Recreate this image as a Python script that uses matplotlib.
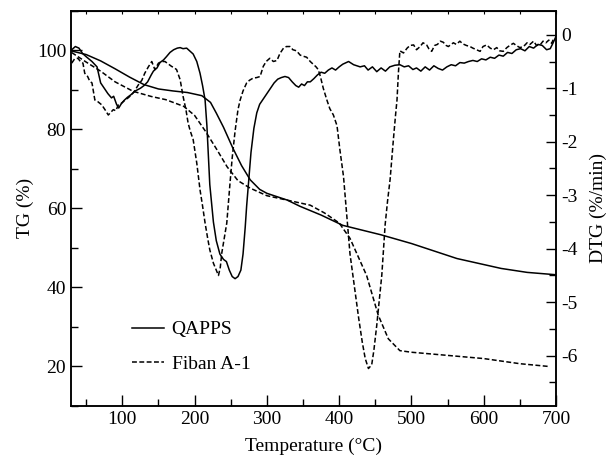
import matplotlib
matplotlib.use("Agg")
import matplotlib.pyplot as plt
from matplotlib.ticker import MultipleLocator

plt.rcParams['font.family'] = ['Liberation Serif', 'DejaVu Serif']
plt.rcParams['axes.unicode_minus'] = False
plt.rcParams['font.size'] = 14

# TG curves (left axis, %)
tg_qapps_x = [30, 50, 70, 90, 110, 130, 150, 170, 190, 210, 222, 230, 240, 253, 265, 277,
              290, 300, 328, 346, 375, 405, 458, 500, 563, 624, 660, 700]
tg_qapps_y = [99.8, 98.9, 97.3, 95.3, 93.2, 91.3, 90.2, 89.7, 89.3, 88.5, 86.8, 84.1, 80.5,
              75.2, 70.8, 67.2, 64.8, 63.8, 62.1, 60.5, 58.3, 55.7, 53.3, 51.1, 47.3, 44.8,
              43.8, 43.2]

tg_fiban_x = [30, 50, 70, 90, 115, 140, 160, 185, 200, 215, 231, 245, 260, 277, 300, 330,
              360, 380, 400, 415, 438, 454, 468, 484, 500, 550, 600, 650, 690]
tg_fiban_y = [99.4, 97.0, 94.7, 92.0, 89.6, 88.3, 87.5, 85.8, 83.5, 79.5, 74.8, 70.5, 67.0,
              65.1, 63.2, 62.0, 60.8, 58.8, 56.3, 52.4, 43.0, 33.0, 27.0, 24.0, 23.6, 22.8,
              22.0, 20.7, 20.0]

# DTG curves (right axis, %/min)
dtg_qapps_x = [30, 35, 40, 45, 50, 58, 65, 70, 75, 80, 85, 88, 92, 95, 99, 103, 107, 112,
               118, 125, 130, 135, 140, 143, 148, 152, 157, 161, 166, 171, 176, 180, 184,
               189, 193, 198, 203, 207.5, 211, 214.5, 217, 221, 226, 230, 235, 240, 244,
               248, 252, 256, 260, 264, 267, 270, 272, 275, 278, 282, 286, 290, 295, 300,
               305, 310, 315, 320, 325, 330, 335, 340, 344, 348, 352, 356, 360, 365, 370,
               375, 380, 385, 390, 395, 400, 405, 413, 420, 429, 435, 440, 446, 452, 458,
               464, 470, 477, 484, 490, 496, 502, 507, 513, 519, 525, 531, 537, 543, 549,
               555, 561, 567, 573, 579, 585, 591, 597, 603, 609, 615, 621, 627, 633, 639,
               645, 651, 657, 663, 669, 675, 681, 687, 692, 696, 700]
dtg_qapps_y = [-0.28, -0.22, -0.25, -0.35, -0.41, -0.5, -0.6, -0.9, -1.0, -1.1, -1.18, -1.15,
               -1.3, -1.37, -1.28, -1.22, -1.17, -1.12, -1.05, -1.0, -0.95, -0.88, -0.75,
               -0.68, -0.62, -0.52, -0.47, -0.41, -0.33, -0.28, -0.25, -0.24, -0.26, -0.25,
               -0.3, -0.36, -0.5, -0.72, -0.95, -1.22, -1.7, -2.8, -3.5, -3.85, -4.1, -4.2,
               -4.24, -4.4, -4.52, -4.56, -4.52, -4.4, -4.1, -3.6, -3.2, -2.7, -2.2, -1.75,
               -1.46, -1.3, -1.2, -1.1, -1.0, -0.9, -0.83, -0.8, -0.78, -0.8, -0.88, -0.95,
               -0.98, -0.92, -0.95, -0.88, -0.88, -0.82, -0.75, -0.7, -0.72, -0.66, -0.62,
               -0.66, -0.6, -0.55, -0.5, -0.56, -0.6, -0.58, -0.66, -0.6, -0.69, -0.62,
               -0.68, -0.6, -0.57, -0.56, -0.6, -0.58, -0.65, -0.62, -0.68, -0.6, -0.66,
               -0.58, -0.63, -0.66, -0.6, -0.56, -0.58, -0.52, -0.53, -0.5, -0.48, -0.5,
               -0.45, -0.47, -0.42, -0.44, -0.38, -0.4, -0.33, -0.35, -0.28, -0.26, -0.3,
               -0.22, -0.25, -0.18, -0.2, -0.28, -0.26, -0.15, -0.03]

dtg_fiban_x = [30, 34, 38.6, 42, 45.5, 48, 52, 55, 58, 62, 66, 71.5, 76, 80.6, 84, 87.5, 91,
               94.5, 99, 103.7, 108, 113, 117, 122, 127, 131, 136, 140.7, 145, 150, 155,
               159, 164, 168, 172, 175, 180, 184, 188, 191, 194, 198, 203, 207.5, 211,
               214.5, 218, 221, 226, 230, 233, 235.5, 237.6, 241, 244.5, 247, 249, 252,
               256, 260, 263, 267, 272, 276, 281, 286, 290.6, 295, 299, 304, 309, 314, 318,
               323, 327, 332, 336, 341, 346, 350, 355, 360, 364, 368, 371, 374, 378, 383,
               387, 392, 397, 401, 406, 410, 415, 421, 427, 432, 436, 440.5, 445, 448, 452,
               455.5, 459, 463.6, 467, 470.5, 475, 478, 480, 482, 484, 489, 494, 498, 503,
               507, 512, 516, 521, 524, 528, 532, 536, 540, 544, 548, 551, 554, 558, 562,
               567, 571, 576, 581, 585, 590, 595, 599, 604, 609, 613.5, 618, 622, 627, 632,
               636, 641, 645, 650, 655, 660, 664, 669, 673, 678, 682, 686, 690, 694, 697]
dtg_fiban_y = [-0.53, -0.45, -0.44, -0.5, -0.53, -0.72, -0.78, -0.87, -0.9, -1.22, -1.25,
               -1.31, -1.4, -1.5, -1.45, -1.4, -1.42, -1.31, -1.28, -1.22, -1.18, -1.12,
               -1.05, -0.94, -0.85, -0.72, -0.6, -0.5, -0.65, -0.53, -0.5, -0.5, -0.55,
               -0.59, -0.62, -0.65, -0.84, -1.15, -1.4, -1.65, -1.8, -1.96, -2.4, -2.9,
               -3.2, -3.52, -3.8, -4.02, -4.27, -4.4, -4.5, -4.35, -4.08, -3.8, -3.52,
               -3.1, -2.77, -2.3, -1.8, -1.4, -1.22, -1.05, -0.9, -0.85, -0.81, -0.8,
               -0.78, -0.59, -0.5, -0.44, -0.5, -0.48, -0.35, -0.25, -0.22, -0.22, -0.28,
               -0.3, -0.38, -0.4, -0.42, -0.5, -0.55, -0.6, -0.65, -0.78, -1.0, -1.22,
               -1.38, -1.5, -1.7, -2.15, -2.65, -3.3, -4.1, -4.7, -5.3, -5.75, -6.05,
               -6.24, -6.17, -5.9, -5.43, -4.95, -4.49, -3.55, -3.1, -2.7, -1.96, -1.5,
               -1.22, -0.7, -0.3, -0.34, -0.25, -0.2, -0.19, -0.28, -0.22, -0.15, -0.19,
               -0.26, -0.31, -0.2, -0.18, -0.12, -0.14, -0.2, -0.22, -0.19, -0.15, -0.18,
               -0.12, -0.17, -0.2, -0.22, -0.25, -0.28, -0.31, -0.22, -0.19, -0.25, -0.28,
               -0.24, -0.3, -0.31, -0.24, -0.2, -0.16, -0.2, -0.24, -0.22, -0.15, -0.18,
               -0.12, -0.2, -0.19, -0.12, -0.15, -0.1, -0.16, -0.06]

fig = plt.figure(figsize=(6.09, 4.55), dpi=100)
ax = fig.add_axes([0.1166, 0.1077, 0.7964, 0.8688])
ax2 = ax.twinx()

dash = (0, (3.2, 1.6))
ax.plot(tg_qapps_x, tg_qapps_y, color='black', lw=1.1, label='QAPPS')
ax.plot(tg_fiban_x, tg_fiban_y, color='black', lw=1.1, linestyle=dash, label='Fiban A-1')
ax2.plot(dtg_qapps_x, dtg_qapps_y, color='black', lw=1.1)
ax2.plot(dtg_fiban_x, dtg_fiban_y, color='black', lw=1.1, linestyle=dash)

ax.set_xlim(29, 700)
ax.set_ylim(10, 110)
ax2.set_ylim(-6.94, 0.45)

ax.xaxis.set_major_locator(MultipleLocator(100))
ax.xaxis.set_minor_locator(MultipleLocator(50))
ax.yaxis.set_major_locator(MultipleLocator(20))
ax.yaxis.set_minor_locator(MultipleLocator(10))
ax2.yaxis.set_major_locator(MultipleLocator(1))
ax2.yaxis.set_minor_locator(MultipleLocator(0.5))

ax.tick_params(which='both', direction='in', right=False, width=1)
ax.tick_params(which='major', length=8)
ax.tick_params(which='minor', length=5)
# tiny ticks along the top edge
ax_top = ax.secondary_xaxis('top')
ax_top.xaxis.set_major_locator(MultipleLocator(50))
ax_top.tick_params(direction='in', length=2, width=0.8, labeltop=False)
ax2.tick_params(which='both', direction='in', width=1)
ax2.tick_params(which='major', length=7)
ax2.tick_params(which='minor', length=5)
for a in (ax, ax2):
    for s in a.spines.values():
        s.set_linewidth(1.1)

ax.set_xlabel('Temperature (°C)', labelpad=7)
ax.set_ylabel('TG (%)', labelpad=2)
ax2.set_ylabel('DTG (%/min)', labelpad=9)

ax.legend(loc='lower left', bbox_to_anchor=(0.105, 0.06), frameon=False,
          handlelength=1.65, handletextpad=0.4, labelspacing=0.85, borderpad=0,
          fontsize=14)

fig.savefig('out.png', dpi=100)
